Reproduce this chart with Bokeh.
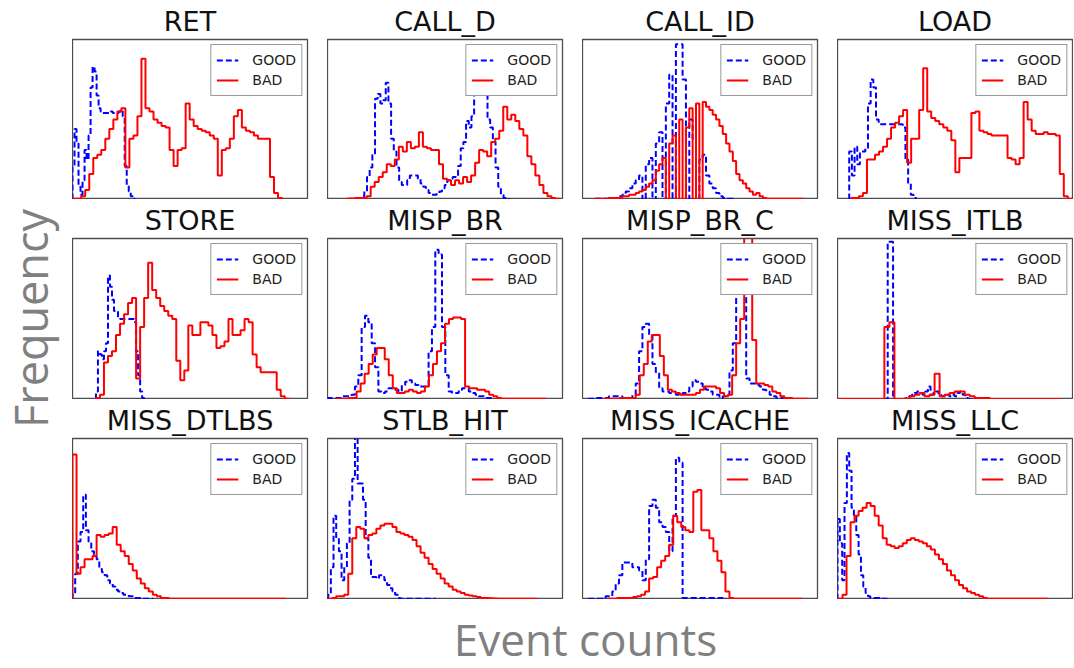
import math
from bokeh.plotting import figure
from bokeh.layouts import row, column
from bokeh.models import Range1d, Legend, LegendItem, Label
from bokeh.embed import file_html
from bokeh.resources import INLINE

# ---------------- data (bin heights, % of panel height; bins = (first edge, width)) --------------
titles = ["RET", "CALL_D", "CALL_ID", "LOAD",
          "STORE", "MISP_BR", "MISP_BR_C", "MISS_ITLB",
          "MISS_DTLBS", "STLB_HIT", "MISS_ICACHE", "MISS_LLC"]

ret_good_bin = (20, 6)
ret_good = [20, 44, 35, 8, 3, 12, 31, 25, 40, 70, 83, 80, 65, 57, 55, 54, 54, 54, 54, 55, 54, 54, 54, 55, 56, 52, 21, 9, 5, 2, 0.5]
ret_bad_bin = (22, 12)
ret_bad = [0.5, 0.5, 2, 6, 16, 26, 28, 31, 38, 44, 50, 55, 57, 20, 38, 40, 52, 88, 57, 55, 50, 48, 46, 45, 31, 21, 31, 32, 60, 50,
           46, 44, 43, 42, 40, 38, 15, 31, 32, 38, 52, 56, 45, 43, 42, 40, 38, 38, 38, 14, 4, 1]

call_d_good_bin = (80, 8)
call_d_good = [0.5, 0.5, 0.5, 0.5, 1, 2, 5, 14, 20, 28, 63, 66, 60, 62, 73, 60, 38, 30, 20, 11, 9, 9, 12, 15, 15, 15, 13, 10, 8, 6,
               4, 3, 3, 4, 5, 7, 9, 12, 13, 14, 14, 21, 32, 36, 49, 45, 52, 72, 88, 90, 92, 90, 50, 45, 36, 20, 8, 3, 1, 0.5]
call_d_bad_bin = (75, 12)
call_d_bad = [0.5, 0.5, 1, 1, 1, 2, 8, 11, 14, 17, 22, 21, 25, 33, 30, 36, 32, 33, 42, 33, 32, 31, 31, 22, 13, 12, 9, 12, 10, 14,
              11, 15, 23, 31, 30, 27, 36, 38, 43, 58, 50, 53, 49, 44, 40, 27, 22, 15, 9, 4, 2, 1, 0.5]

call_id_good_bin = (60, 10)
call_id_good = [0.5, 0.5, 0.5, 0.5, 1, 1, 1, 2, 3, 5, 7, 10, 12, 15, 0, 22, 26, 0, 35, 42, 0, 60, 78, 0, 97, 97, 75, 0, 50, 38,
                0, 25, 28, 15, 10, 7, 4, 2, 1, 0.5, 0.5]
call_id_bad_bin = (60, 10)
call_id_bad = [0.5, 0.5, 0.5, 0.5, 1, 1, 1, 1, 2, 2, 3, 3, 4, 5, 6, 8, 10, 12, 18, 22, 26, 0, 35, 40, 0, 50, 0, 45, 57, 0,
               60, 0, 61, 58, 56, 53, 50, 46, 41, 35, 30, 24, 16, 12, 10, 7, 5, 3, 4, 2, 1, 0.5, 0.5, 0.5, 0.5, 0.5, 0.5, 0.5, 0.5, 0.5,
               0.5, 0.5]

load_good_bin = (50, 8)
load_good = [30, 15, 33, 22, 30, 30, 32, 60, 75, 70, 50, 47, 47, 47, 47, 47, 47, 47, 47, 47, 45, 25, 10, 3, 1]
load_bad_bin = (55, 12)
load_bad = [1, 1, 2, 4, 25, 25, 28, 30, 33, 38, 45, 48, 52, 56, 23, 38, 38, 56, 82, 55, 51, 49, 47, 45, 43, 37, 17, 26, 26, 26,
            54, 55, 43, 42, 41, 40, 40, 40, 40, 26, 25, 22, 26, 61, 50, 43, 41, 41, 42, 41, 41, 40, 16, 2, 0.5]

store_good_bin = (90, 6)
store_good = [5, 30, 28, 25, 30, 35, 77, 70, 62, 55, 55, 51, 50, 50, 50, 50, 50, 50, 50, 48, 30, 15, 5, 1]
store_bad_bin = (90, 12)
store_bad = [1, 3, 23, 27, 30, 40, 47, 53, 60, 63, 13, 45, 63, 85, 68, 63, 58, 55, 52, 50, 24, 12, 18, 46, 40, 40, 48, 48, 46, 40,
             32, 33, 36, 50, 40, 40, 43, 50, 48, 28, 20, 17, 17, 17, 17, 6, 2, 0.5]

misp_br_good_bin = (20, 10)
misp_br_good = [1, 1, 1, 1, 2, 2, 2, 3, 8, 15, 45, 52, 48, 35, 20, 5, 4, 5, 7, 7, 6, 5, 9, 11, 12, 10, 9, 8, 8, 8,
                30, 45, 93, 90, 45, 15, 5, 4, 4, 6, 7, 7, 5, 4, 3, 2, 2, 1, 1]
misp_br_bad_bin = (45, 12)
misp_br_bad = [0.5, 0.5, 0.5, 1, 1, 5, 10, 16, 22, 28, 32, 32, 25, 15, 7, 4, 4, 5, 6, 5, 4, 5, 8, 15, 22, 30, 35, 47, 50, 51,
               51, 50, 8, 7, 7, 6, 6, 5, 3, 2, 1, 0.5, 0.5, 0.5, 0.5, 0.5, 0.5, 0.5, 0.5, 0.5, 0.5, 0.5]

misp_br_c_good_bin = (40, 10)
misp_br_c_good = [0.5, 0.5, 1, 1, 1, 1, 2, 2, 2, 2, 1, 1, 1, 3, 10, 30, 45, 47, 40, 22, 17, 7, 5, 5, 4, 4, 3, 3, 4, 5,
                  8, 12, 11, 10, 7, 6, 5, 3, 3, 1, 2, 3, 18, 35, 68, 75, 70, 13, 10, 10, 9, 8, 6, 5, 3, 2, 1, 1]
misp_br_c_bad_bin = (84, 12)
misp_br_c_bad = [0.5, 0.5, 0.5, 0.5, 1, 1, 1, 1, 3, 15, 22, 36, 40, 40, 27, 15, 6, 5, 4, 3, 3, 3, 3, 4, 6, 8, 8, 8, 7, 4,
                 2, 3, 15, 35, 50, 110, 110, 37, 10, 10, 9, 8, 5, 4, 2, 1, 1, 0.5, 0.5, 0.5, 0.5]

miss_itlb_good_bin = (21, 8)
miss_itlb_good = [0.3, 0.3, 0.3, 0.3, 0.3, 0.3, 0.3, 0.3, 0.3, 0.3, 0.3, 0.3, 0.3, 0.3, 0.3, 0.3, 0.3, 0.3, 98, 98,
                  0.3, 0.3, 0.3, 0.3, 0.5, 1, 2, 3, 4, 5, 4, 3, 5, 8, 3, 4, 5, 3, 2, 2, 3, 2, 3, 2, 4, 5, 3, 1, 0.3]
miss_itlb_bad_bin = (20, 15)
miss_itlb_bad = [0.3, 0.3, 0.3, 0.3, 0.3, 0.3, 0.3, 0.3, 0.3, 45, 48, 0.3, 0.3, 0.5, 2, 3, 4, 2, 3, 16, 2, 3, 4, 5, 5, 3, 2, 1, 1, 1,
                 0.3, 0.3, 0.3, 0.3, 0.3, 0.3, 0.3, 0.3, 0.3, 0.3, 0.3, 0.3, 0.3, 0.3]

miss_dtlbs_good_bin = (20, 8)
miss_dtlbs_good = [3, 16, 36, 42, 65, 43, 35, 30, 27, 25, 19, 17, 15, 12, 10, 8, 6, 5, 4, 3, 3, 2, 2, 1, 1, 1, 0.5, 0.5, 0.5, 0.5]
miss_dtlbs_bad_bin = (20, 12)
miss_dtlbs_bad = [90, 16, 20, 25, 25, 27, 40, 39, 40, 41, 45, 34, 30, 27, 22, 18, 13, 10, 7, 5, 3, 2, 1, 1, 0.5, 0.5, 0.5, 0.5, 0.5, 0.5,
                  0.5, 0.5, 0.5, 0.5, 0.5, 0.5, 0.5, 0.5, 0.5, 0.5, 0.5, 0.5, 0.5, 0.5, 0.5, 0.5, 0.5, 0.5, 0.5, 0.5, 0.5, 0.5, 0.5]

stlb_hit_good_bin = (20, 8)
stlb_hit_good = [3, 20, 52, 38, 30, 12, 20, 35, 62, 75, 110, 72, 72, 62, 38, 26, 14, 14, 13, 15, 14, 12, 9, 7, 5, 3, 1, 0.5, 0.5, 0.5,
                 0.5, 0.5, 0.5, 0.5, 0.5, 0.5, 0.5, 0.5, 0.5, 0.5]
stlb_hit_bad_bin = (20, 12)
stlb_hit_bad = [0.5, 1, 2, 2, 3, 16, 38, 45, 44, 38, 40, 41, 44, 46, 47, 47, 45, 42, 41, 40, 39, 37, 33, 29, 26, 22, 19, 16, 13, 10,
                8, 6, 5, 4, 3, 2.5, 2, 1.5, 1, 1, 0.8, 0.6, 0.5, 0.5, 0.5, 0.5, 0.5, 0.5, 0.5, 0.5, 0.5, 0.5]

miss_icache_good_bin = (40, 10)
miss_icache_good = [0.5, 0.5, 0.5, 0.5, 0.5, 2, 2, 5, 10, 15, 23, 23, 23, 20, 20, 18, 12, 25, 58, 62, 57, 48, 45, 42, 30, 52, 88, 85, 1, 1,
                    1, 1, 1, 1, 1, 1, 1, 1, 1, 1, 0.5]
miss_icache_bad_bin = (100, 12)
miss_icache_bad = [0.5, 0.5, 1, 1, 1, 1, 1.5, 2, 3, 5, 13, 14, 20, 24, 27, 34, 52, 48, 45, 43, 42, 67, 68, 43, 43, 38, 30, 24, 17, 5,
                   1, 0.5, 0.5, 0.5, 0.5, 0.5, 0.5, 0.5, 0.5, 0.5, 0.5, 0.5, 0.5, 0.5, 0.5, 0.5, 0.5, 0.5]

miss_llc_good_bin = (15, 7)
miss_llc_good = [50, 35, 12, 60, 91, 80, 57, 52, 40, 28, 15, 8, 4, 2, 1, 1, 1, 1, 0.5, 0.5, 0.5]
miss_llc_bad_bin = (18, 12)
miss_llc_bad = [0.5, 3, 27, 48, 52, 55, 57, 60, 58, 52, 46, 38, 34, 33, 32, 33, 35, 37, 38, 37, 36, 35, 33, 31, 28, 25, 22, 18, 15, 12,
                9, 7, 5, 4, 3, 2, 1, 0.5, 0.5, 0.5, 0.5, 0.5, 0.5, 0.5, 0.5, 0.5, 0.5, 0.5, 0.5, 0.5, 0.5, 0.5]

good_series = [(ret_good_bin, ret_good), (call_d_good_bin, call_d_good), (call_id_good_bin, call_id_good), (load_good_bin, load_good),
               (store_good_bin, store_good), (misp_br_good_bin, misp_br_good), (misp_br_c_good_bin, misp_br_c_good),
               (miss_itlb_good_bin, miss_itlb_good), (miss_dtlbs_good_bin, miss_dtlbs_good), (stlb_hit_good_bin, stlb_hit_good),
               (miss_icache_good_bin, miss_icache_good), (miss_llc_good_bin, miss_llc_good)]
bad_series = [(ret_bad_bin, ret_bad), (call_d_bad_bin, call_d_bad), (call_id_bad_bin, call_id_bad), (load_bad_bin, load_bad),
              (store_bad_bin, store_bad), (misp_br_bad_bin, misp_br_bad), (misp_br_c_bad_bin, misp_br_c_bad),
              (miss_itlb_bad_bin, miss_itlb_bad), (miss_dtlbs_bad_bin, miss_dtlbs_bad), (stlb_hit_bad_bin, stlb_hit_bad),
              (miss_icache_bad_bin, miss_icache_bad), (miss_llc_bad_bin, miss_llc_bad)]

# ---------------- styling / layout ----------------
col_x_lo = [20, 18, 21, 15]
X_SPAN = 702
FRAME_W, FRAME_H = 235, 162
TITLE_FONT = "DejaVu Sans"
FRAME_COLOR = "#4d4d4d"


def step_xy(bins, heights):
    x0, dx = bins
    xs, ys = [x0], [0]
    for i, h in enumerate(heights):
        xs += [x0 + i * dx, x0 + (i + 1) * dx]
        ys += [h, h]
    xs.append(x0 + len(heights) * dx)
    ys.append(0)
    return xs, ys


def make_panel(idx):
    r, c = divmod(idx, 4)
    right = 20 if c < 3 else 1
    top = 37 if r == 0 else 38
    p = figure(width=FRAME_W + right, height=FRAME_H + top,
               x_range=Range1d(col_x_lo[c], col_x_lo[c] + X_SPAN), y_range=Range1d(0, 100),
               x_axis_location=None, y_axis_location=None,
               toolbar_location=None, output_backend="svg",
               min_border_left=0, min_border_right=right, min_border_top=top, min_border_bottom=0)
    p.grid.visible = False
    p.outline_line_color = FRAME_COLOR
    p.outline_line_width = 1.3
    p.background_fill_color = "white"
    p.border_fill_color = "white"
    p.title.text = titles[idx]
    p.title.align = "center"
    p.title.text_font = TITLE_FONT
    p.title.text_font_size = "27px"
    p.title.text_font_style = "normal"
    p.title.text_color = "#111111"
    p.title.standoff = 6

    gx, gy = step_xy(*good_series[idx])
    bx, by = step_xy(*bad_series[idx])
    g = p.line(gx, gy, line_color="#0000ff", line_width=2, line_dash="6 3")
    b = p.line(bx, by, line_color="#ff0000", line_width=2)
    leg = Legend(items=[LegendItem(label="GOOD", renderers=[g]), LegendItem(label="BAD", renderers=[b])],
                 location="top_right", margin=5, padding=5, spacing=0,
                 label_text_font=TITLE_FONT, label_text_font_size="14px", label_text_color="#222222",
                 label_height=20, glyph_height=20, glyph_width=22, label_standoff=14,
                 border_line_color="#333333", border_line_width=1,
                 background_fill_color="white", background_fill_alpha=1.0)
    p.add_layout(leg)
    return p


panels = [make_panel(i) for i in range(12)]
rows = [row(*panels[r * 4:(r + 1) * 4], spacing=0) for r in range(3)]

xlab = figure(width=1001, height=69, x_range=Range1d(0, 1), y_range=Range1d(0, 1),
              x_axis_location=None, y_axis_location=None, toolbar_location=None, output_backend="svg",
              min_border_left=0, min_border_right=0, min_border_top=0, min_border_bottom=0)
xlab.grid.visible = False
xlab.outline_line_color = None
xlab.add_layout(Label(x=513, y=30, x_units="screen", y_units="screen", text="Event counts",
                      text_align="center", text_baseline="middle", text_font="Open Sans",
                      text_font_size="44px", text_color="#808080"))

ylab = figure(width=72, height=668, x_range=Range1d(0, 1), y_range=Range1d(0, 1),
              x_axis_location=None, y_axis_location=None, toolbar_location=None, output_backend="svg",
              min_border_left=0, min_border_right=0, min_border_top=0, min_border_bottom=0)
ylab.grid.visible = False
ylab.outline_line_color = None
ylab.add_layout(Label(x=30, y=350, x_units="screen", y_units="screen", text="Frequency", angle=math.pi / 2,
                      text_align="center", text_baseline="middle", text_font="Open Sans",
                      text_font_size="45px", text_color="#808080"))

layout = row(ylab, column(*rows, xlab, spacing=0), spacing=0)

open("out.html", "w").write(file_html(layout, INLINE))
